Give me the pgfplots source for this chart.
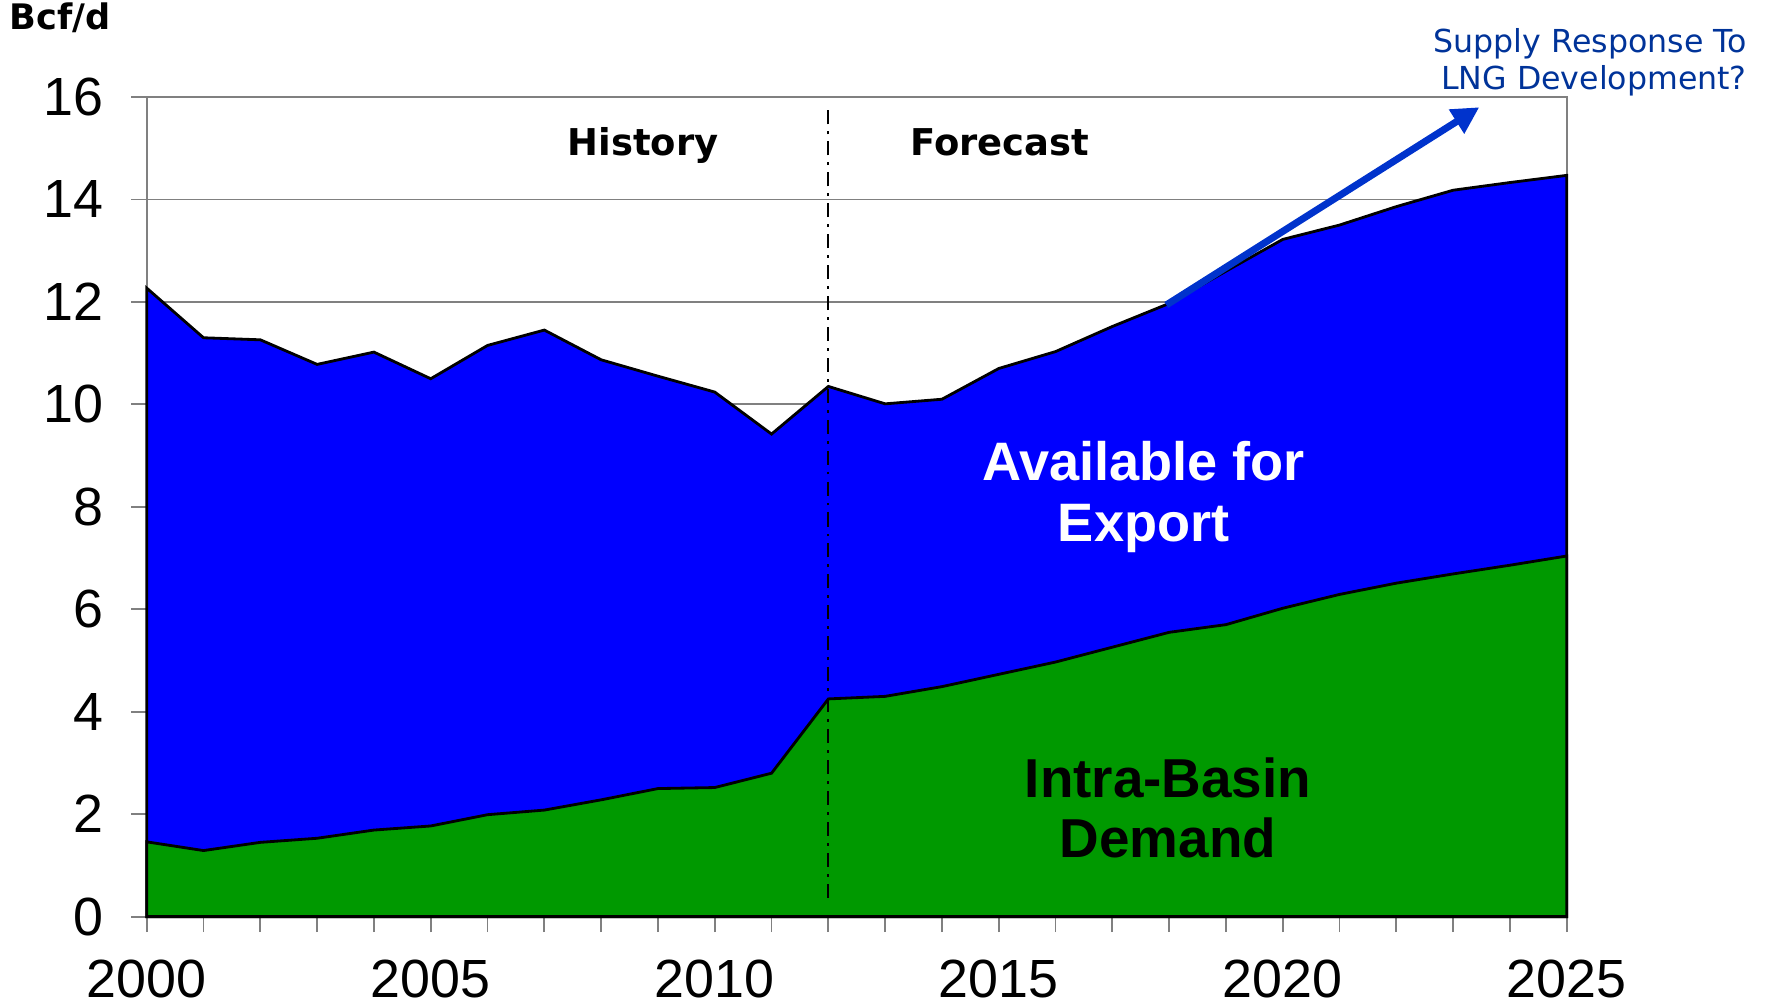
\documentclass[border=0pt]{standalone}
\usepackage{fontspec}
\setmainfont{Liberation Sans}
\newfontfamily\verdana{DejaVu Sans}
\usepackage{pgfplots}
\pgfplotsset{compat=1.18}
\usetikzlibrary{arrows.meta}
\definecolor{areablue}{RGB}{0,0,255}
\definecolor{areagreen}{RGB}{0,153,0}
\definecolor{arrowblue}{RGB}{0,51,204}
\definecolor{textblue}{RGB}{0,51,153}
\begin{document}
\begin{tikzpicture}
\begin{axis}[name=ax, scale only axis, width=142mm, height=81.96mm,
  xmin=2000, xmax=2025, ymin=0, ymax=16,
  xtick={2000,2005,...,2025}, minor xtick={2001,...,2024},
  ytick={0,2,...,16},
  xtick pos=left, ytick pos=left,
  ymajorgrids, grid style={draw=gray, line width=0.5pt},
  axis line style={draw=gray, line width=0.6pt},
  tick align=outside, major tick length=1.55mm, minor tick length=1.55mm,
  every tick/.style={draw=gray, line width=0.5pt},
  minor tick style={draw=gray, line width=0.5pt},
  ticklabel style={font=\fontsize{15.3}{18}\selectfont},
  /pgf/number format/assume math mode=true,
  /pgf/number format/1000 sep={},
  yticklabel style={xshift=-1.5mm},
  xticklabel style={yshift=-1.5mm},
  clip=false,
]
\addplot[fill=areablue, draw=black, line width=0.8pt] coordinates {
(2000,12.27) (2001,11.30) (2002,11.26) (2003,10.78) (2004,11.02) (2005,10.50)
(2006,11.15) (2007,11.45) (2008,10.87) (2009,10.55) (2010,10.24) (2011,9.42)
(2012,10.35) (2013,10.01) (2014,10.10) (2015,10.70) (2016,11.03) (2017,11.52)
(2018,11.97) (2019,12.60) (2020,13.22) (2021,13.50) (2022,13.86) (2023,14.18)
(2024,14.33) (2025,14.47)} \closedcycle;
\addplot[fill=areagreen, draw=black, line width=0.8pt] coordinates {
(2000,1.46) (2001,1.29) (2002,1.45) (2003,1.53) (2004,1.69) (2005,1.77)
(2006,1.99) (2007,2.08) (2008,2.28) (2009,2.50) (2010,2.52) (2011,2.80)
(2012,4.25) (2013,4.30) (2014,4.49) (2015,4.73) (2016,4.97) (2017,5.26)
(2018,5.55) (2019,5.70) (2020,6.02) (2021,6.29) (2022,6.51) (2023,6.69)
(2024,6.86) (2025,7.04)} \closedcycle;
\draw[black, line width=0.6pt, dash pattern=on 4pt off 2pt on 0.8pt off 2pt] (axis cs:2012,0.37) -- (axis cs:2012,15.8);
\draw[arrowblue, line width=2pt, -{Triangle[length=2.7mm,width=2.7mm]}] (axis cs:2017.95,11.94) -- (axis cs:2023.46,15.8);
\node[anchor=base, font=\verdana\bfseries\fontsize{10.5}{12}\selectfont] at (axis cs:2008.74,14.85) {History};
\node[anchor=base, font=\verdana\bfseries\fontsize{10.5}{12}\selectfont] at (axis cs:2015.02,14.85) {Forecast};
\node[font=\bfseries\fontsize{15.4}{17.2}\selectfont, text=white, align=center] at (axis cs:2017.55,8.19) {Available for\\Export};
\node[font=\bfseries\fontsize{15.6}{17.2}\selectfont, text=black, align=center] at (axis cs:2017.98,2.12) {Intra-Basin\\Demand};
\end{axis}
\node[anchor=base west, inner sep=0pt, font=\verdana\bfseries\fontsize{10}{12}\selectfont] at ([xshift=-13.8mm,yshift=6.7mm]ax.north west) {Bcf/d};
\node[anchor=base east, inner sep=0pt, align=right, text=textblue, font=\verdana\fontsize{9}{10.6}\selectfont] at ([xshift=18.07mm,yshift=0.7mm]ax.north east) {Supply Response To\\LNG Development?};
\pgfresetboundingbox
\path ([xshift=-14.67mm,yshift=-8.64mm]ax.south west) rectangle ([xshift=20.32mm,yshift=9.7mm]ax.north east);
\end{tikzpicture}
\end{document}
